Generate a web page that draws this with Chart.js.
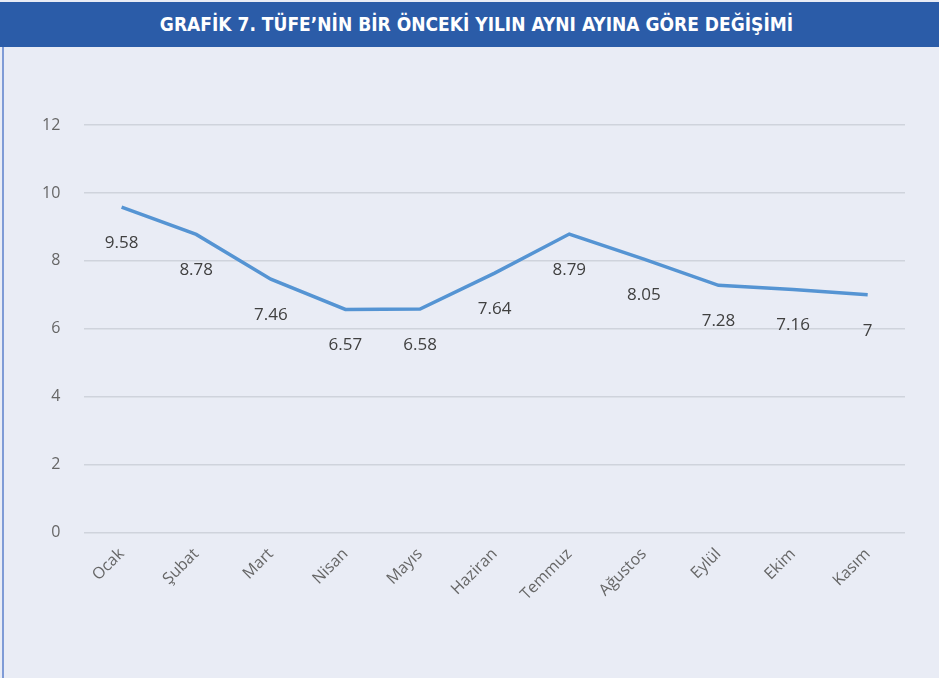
<!DOCTYPE html>
<html>
<head>
<meta charset="utf-8">
<script src="https://cdn.jsdelivr.net/npm/chart.js@4"></script>
<style>
    html, body { margin: 0; padding: 0; }
    body { width: 939px; height: 678px; background: #e9ecf5; overflow: hidden; position: relative; }
    .baslik {
        position: absolute; left: 0; top: 2px; width: 939px; height: 45px;
        background: #2b5ca8; color: #fff;
        font-family: 'DejaVu Sans Condensed', 'DejaVu Sans', sans-serif; font-weight: bold;
        font-size: 19px; line-height: 45px; text-align: center; text-indent: 14px;
    }
    .kenar { position: absolute; left: 2px; top: 47px; width: 2px; height: 631px; background: #7f9bd6; }
    .grafik { position: absolute; left: 0; top: 47px; width: 939px; height: 631px; }
</style>
</head>
<body>
<div class="baslik">GRAFİK 7. TÜFE’NİN BİR ÖNCEKİ YILIN AYNI AYINA GÖRE DEĞİŞİMİ</div>
<div class="kenar"></div>
<div class="grafik"><canvas id="tufeChart"></canvas></div>
<script>
// Veriler
const aylar = ['Ocak', 'Şubat', 'Mart', 'Nisan', 'Mayıs', 'Haziran', 'Temmuz', 'Ağustos', 'Eylül', 'Ekim', 'Kasım'];
const tufeDegisim = [9.58, 8.78, 7.46, 6.57, 6.58, 7.64, 8.79, 8.05, 7.28, 7.16, 7];
const yEksenMax = 12;
const yEksenAdim = 2;

// Noktaların altına değer yaz
const degerEtiketleri = {
    id: 'degerEtiketleri',
    afterDatasetsDraw(chart) {
        const ctx = chart.ctx;
        const meta = chart.getDatasetMeta(0);
        ctx.save();
        ctx.font = "17px 'Open Sans', sans-serif";
        ctx.fillStyle = '#404040';
        ctx.textAlign = 'center';
        ctx.textBaseline = 'middle';
        meta.data.forEach((pt, i) => {
            ctx.fillText(String(tufeDegisim[i]), pt.x, pt.y + 36);
        });
        ctx.restore();
    }
};

new Chart(document.getElementById('tufeChart'), {
    type: 'line',
    data: {
        labels: aylar,
        datasets: [{
            data: tufeDegisim,
            borderColor: '#5594d3',
            borderWidth: 3.5,
            pointRadius: 0,
            tension: 0,
            fill: false
        }]
    },
    options: {
        responsive: true,
        maintainAspectRatio: false,
        animation: false,
        layout: { padding: { left: 18, right: 34, top: 78, bottom: 70 } },
        plugins: {
            legend: { display: false },
            tooltip: { enabled: false }
        },
        scales: {
            y: {
                min: 0,
                max: yEksenMax,
                ticks: {
                    stepSize: yEksenAdim,
                    color: '#666666',
                    padding: 24,
                    font: { size: 16, family: "'Open Sans', sans-serif" }
                },
                grid: { color: '#cfd3dc', lineWidth: 1.5, drawTicks: false },
                border: { display: false }
            },
            x: {
                offset: true,
                ticks: {
                    color: '#666666',
                    minRotation: 45,
                    maxRotation: 45,
                    padding: 4,
                    font: { size: 16, family: "'Open Sans', sans-serif" }
                },
                grid: { display: false },
                border: { display: false }
            }
        }
    },
    plugins: [degerEtiketleri]
});
</script>
</body>
</html>
